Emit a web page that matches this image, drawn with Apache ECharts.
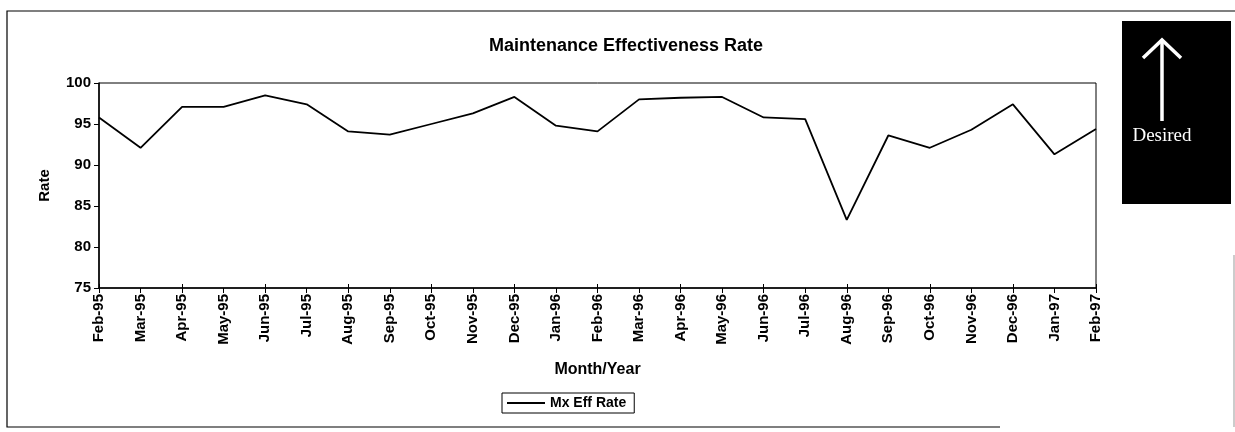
<!DOCTYPE html>
<html><head><meta charset="utf-8">
<script src="https://cdn.jsdelivr.net/npm/echarts@6/dist/echarts.min.js"></script>
<style>html,body{margin:0;padding:0;background:#fff}#c{width:1235px;height:432px}</style>
</head><body><div id="c"></div>
<script>
const categories = ['Feb-95','Mar-95','Apr-95','May-95','Jun-95','Jul-95','Aug-95','Sep-95','Oct-95','Nov-95','Dec-95','Jan-96','Feb-96','Mar-96','Apr-96','May-96','Jun-96','Jul-96','Aug-96','Sep-96','Oct-96','Nov-96','Dec-96','Jan-97','Feb-97'];
const mxEffRate = [95.8, 92.1, 97.1, 97.1, 98.5, 97.4, 94.1, 93.7, 95.0, 96.3, 98.3, 94.8, 94.1, 98.0, 98.2, 98.3, 95.8, 95.6, 83.3, 93.6, 92.1, 94.3, 97.4, 91.3, 94.4];
const yTicks = {min: 75, max: 100, interval: 5};

const font = 'Liberation Sans, Arial, sans-serif';
const chart = echarts.init(document.getElementById('c'), null, {renderer: 'canvas'});
chart.setOption({
  animation: false,
  backgroundColor: '#fff',
  title: {
    text: 'Maintenance Effectiveness Rate', left: 621, top: 32, textAlign: 'center',
    textStyle: {fontFamily: font, fontWeight: 'bold', fontSize: 18, color: '#000'}
  },
  legend: {
    left: 502, top: 393, data: ['Mx Eff Rate'],
    borderColor: '#000', borderWidth: 1, padding: [3, 8, 3, 5],
    itemWidth: 38, itemHeight: 2, icon: 'rect', itemGap: 4,
    textStyle: {fontFamily: font, fontWeight: 'bold', fontSize: 14, color: '#000'}
  },
  grid: {left: 99, right: 139, top: 83, bottom: 144, show: true, borderColor: '#000', borderWidth: 1},
  xAxis: [{
    type: 'category', data: categories, boundaryGap: false,
    name: 'Month/Year', nameLocation: 'middle', nameGap: 74,
    nameTextStyle: {fontFamily: font, fontWeight: 'bold', fontSize: 16, color: '#000'},
    axisLine: {lineStyle: {color: '#000', width: 1.5}},
    axisTick: {length: 5, lineStyle: {color: '#000'}, alignWithLabel: true},
    axisLabel: {rotate: 90, margin: 6, fontFamily: font, fontWeight: 'bold', fontSize: 15, color: '#000', interval: 0},
    splitLine: {show: false}
  }, {
    type: 'category', data: categories, boundaryGap: false, position: 'bottom',
    axisLine: {show: false}, axisLabel: {show: false},
    axisTick: {inside: true, length: 4, lineStyle: {color: '#000'}}, splitLine: {show: false}
  }],
  yAxis: {
    type: 'value', min: yTicks.min, max: yTicks.max, interval: yTicks.interval,
    name: 'Rate', nameLocation: 'middle', nameGap: 47, nameRotate: 90,
    nameTextStyle: {fontFamily: font, fontWeight: 'bold', fontSize: 15, color: '#000'},
    axisLine: {show: true, lineStyle: {color: '#000', width: 1.5}},
    axisTick: {show: true, length: 5, lineStyle: {color: '#000'}},
    axisLabel: {margin: 8, fontFamily: font, fontWeight: 'bold', fontSize: 15, color: '#000'},
    splitLine: {show: false}
  },
  series: [{
    name: 'Mx Eff Rate', type: 'line', data: mxEffRate, symbol: 'none',
    lineStyle: {color: '#000', width: 1.8}, itemStyle: {color: '#000'}
  }],
  graphic: [
    {type: 'polyline', shape: {points: [[1235, 11], [7, 11], [7, 427], [1000, 427]]}, style: {stroke: '#000', lineWidth: 1.2, fill: null}, silent: true},
    {type: 'line', shape: {x1: 1234, y1: 255, x2: 1234, y2: 427}, style: {stroke: '#999', lineWidth: 1}, silent: true},
    {type: 'rect', shape: {x: 1122, y: 21, width: 109, height: 183}, style: {fill: '#000'}, silent: true},
    {type: 'line', shape: {x1: 1162, y1: 42, x2: 1162, y2: 121}, style: {stroke: '#fff', lineWidth: 3.5}, silent: true},
    {type: 'polyline', shape: {points: [[1143, 58], [1162, 40], [1181, 58]]}, style: {stroke: '#fff', lineWidth: 3.5, fill: null}, silent: true},
    {type: 'text', style: {text: 'Desired', x: 1162, y: 136, textAlign: 'center', textVerticalAlign: 'middle', fill: '#fff', font: '19px "Liberation Serif", "Times New Roman", serif'}, silent: true}
  ]
});
</script></body></html>
